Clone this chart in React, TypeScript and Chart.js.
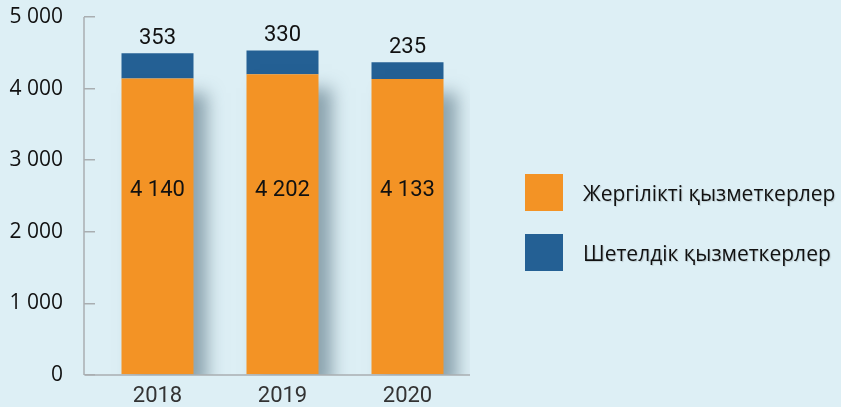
import React, { useEffect, useRef } from "react";
import { Chart, registerables } from "chart.js";

Chart.register(...registerables);

const categories = ["2018", "2019", "2020"];
const localStaff = [4140, 4202, 4133];
const foreignStaff = [353, 330, 235];
const seriesNames = ["Жергілікті қызметкерлер", "Шетелдік қызметкерлер"];
const seriesColors = ["#f39325", "#246094"];
const yTicks = [0, 1000, 2000, 3000, 4000, 5000];

const fmt = (v: number) => String(v).replace(/\B(?=(\d{3})+(?!\d))/g, " ");

const BG = "#ddeff5";
const AXIS = "#a9aeb1";
const TICK_LEN = 11;

const decorPlugin = {
  id: "decor",
  beforeDatasetDraw(chart: any, args: any) {
    if (args.index === 0) {
      const ctx = chart.ctx;
      ctx.save();
      ctx.shadowColor = "rgba(60,90,105,0.5)";
      ctx.shadowBlur = 16;
      ctx.shadowOffsetX = 13;
      ctx.shadowOffsetY = 14;
    }
  },
  afterDatasetDraw(chart: any, args: any) {
    if (args.index === 0) chart.ctx.restore();
  },
  afterDatasetsDraw(chart: any) {
    const ctx = chart.ctx;
    const y = chart.scales.y;
    const area = chart.chartArea;
    const x0 = area.left - TICK_LEN;
    ctx.save();
    ctx.strokeStyle = AXIS;
    ctx.lineWidth = 1.5;
    ctx.beginPath();
    ctx.moveTo(x0, y.getPixelForValue(yTicks[yTicks.length - 1]));
    ctx.lineTo(x0, y.getPixelForValue(0));
    ctx.moveTo(x0 + 1, y.getPixelForValue(0));
    ctx.lineTo(area.right, y.getPixelForValue(0));
    ctx.stroke();

    ctx.fillStyle = "#111";
    ctx.font = "22px Roboto";
    ctx.textAlign = "center";
    ctx.textBaseline = "middle";
    const m0 = chart.getDatasetMeta(0);
    const m1 = chart.getDatasetMeta(1);
    const mean = localStaff.reduce((a, b) => a + b, 0) / localStaff.length;
    const innerY = y.getPixelForValue(mean * 0.618);
    m0.data.forEach((bar: any, i: number) => {
      ctx.fillText(fmt(localStaff[i]), bar.x, innerY);
    });
    m1.data.forEach((bar: any, i: number) => {
      ctx.fillText(fmt(foreignStaff[i]), bar.x, bar.y - 15);
    });
    ctx.restore();
  },
};

export default function App() {
  const ref = useRef<HTMLCanvasElement | null>(null);
  useEffect(() => {
    if (!ref.current) return;
    const chart = new Chart(ref.current, {
      type: "bar",
      data: {
        labels: categories,
        datasets: [
          {
            label: seriesNames[0],
            data: localStaff,
            backgroundColor: seriesColors[0],
            categoryPercentage: 1,
            barPercentage: 0.576,
          },
          {
            label: seriesNames[1],
            data: foreignStaff,
            backgroundColor: seriesColors[1],
            categoryPercentage: 1,
            barPercentage: 0.576,
          },
        ],
      },
      options: {
        animation: false,
        responsive: true,
        maintainAspectRatio: false,
        layout: { padding: { top: 17, right: 371, left: 0, bottom: 0 } },
        plugins: {
          legend: { display: false },
          tooltip: { enabled: false },
        },
        scales: {
          x: {
            stacked: true,
            grid: { display: false },
            border: { display: false },
            ticks: {
              color: "#333",
              font: { family: "Roboto", size: 22 },
              padding: 0,
            },
            afterFit(scale: any) {
              scale.height = 32;
              scale.paddingLeft = 0;
              scale.paddingRight = 0;
            },
          },
          y: {
            stacked: true,
            min: 0,
            max: 5000,
            afterBuildTicks(scale: any) {
              scale.ticks = yTicks.map((v) => ({ value: v }));
            },
            grid: {
              drawOnChartArea: false,
              color: AXIS,
              lineWidth: 1.5,
              tickLength: TICK_LEN,
            },
            border: { display: false },
            ticks: {
              color: "#111",
              font: { family: "Open Sans", size: 21 },
              padding: 21,
              callback: (v: any) => fmt(Number(v)),
            },
            afterFit(scale: any) {
              scale.width = 95;
              scale.paddingTop = 0;
              scale.paddingBottom = 0;
            },
          },
        },
      },
      plugins: [decorPlugin],
    });
    return () => chart.destroy();
  }, []);

  const legendItem = (i: number, top: number) => (
    <div key={i} style={{ position: "absolute", left: 525, top, height: 37, display: "flex", alignItems: "center" }}>
      <div style={{ width: 38, height: 37, background: seriesColors[i] }} />
      <span
        style={{
          marginLeft: 20,
          fontFamily: "'Open Sans'",
          fontSize: 21,
          color: "#111",
          whiteSpace: "nowrap",
          textShadow: "1px 1px 1px rgba(0,0,0,0.15)",
        }}
      >
        {seriesNames[i]}
      </span>
    </div>
  );

  return (
    <div style={{ position: "fixed", left: 0, top: 0, width: 841, height: 407, background: BG, overflow: "hidden" }}>
      <div style={{ position: "absolute", left: 0, top: 0, width: 841, height: 407 }}>
        <canvas ref={ref} />
      </div>
      {legendItem(0, 174)}
      {legendItem(1, 234)}
    </div>
  );
}
